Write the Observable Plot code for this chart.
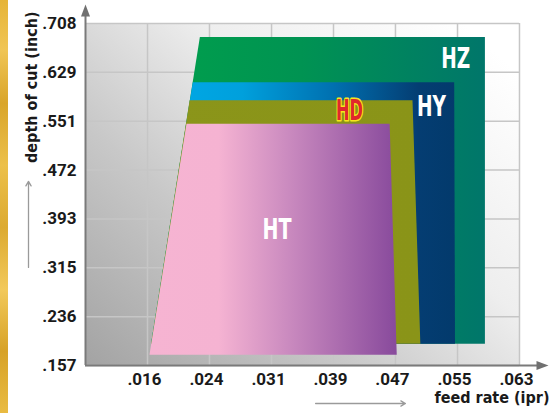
<!DOCTYPE html>
<html><head><meta charset="utf-8">
<script src="https://cdn.jsdelivr.net/npm/d3@7"></script>
<script src="https://cdn.jsdelivr.net/npm/@observablehq/plot@0.6"></script>
<style>
html,body{margin:0;padding:0;background:#fff;}
#wrap{position:relative;width:559px;height:413px;overflow:hidden;}
#gold{position:absolute;left:0;top:0;width:8px;height:413px;z-index:2;
background:linear-gradient(180deg,#e6b437 0%,#f0c555 12%,#d9a52a 25%,#ecc04a 40%,#dcaa30 55%,#f2c95a 70%,#d7a227 85%,#e9bb42 100%);}
</style></head><body><div id="wrap"><div id="gold"></div></div>
<script>
// ---- data (feed rate in ipr, depth of cut in inch) ----
const seriesNames = ["HZ", "HY", "HD", "HT"];
const feedHZ  = [0.0224, 0.0586, 0.0586, 0.0162];
const depthHZ = [0.687, 0.687, 0.1925, 0.1925];
const feedHY  = [0.0215, 0.0547, 0.0548, 0.0162];
const depthHY = [0.614, 0.614, 0.1925, 0.1925];
const feedHD  = [0.0211, 0.0494, 0.0504, 0.0162];
const depthHD = [0.585, 0.585, 0.1925, 0.1925];
const feedHT  = [0.0207, 0.0465, 0.0474, 0.0160];
const depthHT = [0.547, 0.547, 0.1747, 0.1747];
const labelFeed  = [0.0549, 0.0518, 0.0414, 0.0322];
const labelDepth = [0.6515, 0.5737, 0.5672, 0.3758];

const xTickValues = [0.01575, 0.02362, 0.03150, 0.03937, 0.04724, 0.05512, 0.06299];
const xTickLabels = [".016", ".024", ".031", ".039", ".047", ".055", ".063"];
const yTickValues = [0.15748, 0.23622, 0.31496, 0.39370, 0.47244, 0.55118, 0.62992, 0.70866];
const yTickLabels = [".157", ".236", ".315", ".393", ".472", ".551", ".629", ".708"];
const xDomain = [0.007874, 0.062992];
const yDomain = [0.15748, 0.70866];
const yTitleArrow = [0.3156, 0.4543];
const xTitleArrow = [0.0371, 0.0485];
const yTitle = "depth of cut (inch)";
const xTitle = "feed rate (ipr)";

const polys = {HZ: [feedHZ, depthHZ], HY: [feedHY, depthHY], HD: [feedHD, depthHD], HT: [feedHT, depthHT]};
const rows = s => polys[s][0].map((f, i) => ({series: s, feed: f, depth: polys[s][1][i]}));
const labels = seriesNames.map((s, i) => ({series: s, feed: labelFeed[i], depth: labelDepth[i]}));

const condensed = "'Liberation Sans Narrow', 'DejaVu Sans Condensed', 'Roboto', sans-serif";
const tickFont = "Roboto, 'Liberation Sans', sans-serif";

const plot = Plot.plot({
  width: 559, height: 413,
  marginLeft: 85, marginRight: 40, marginTop: 23, marginBottom: 48,
  style: {background: "transparent", overflow: "visible"},
  x: {domain: xDomain},
  y: {domain: yDomain},
  marks: [
    Plot.frame({fill: "url(#bgGrad)", stroke: "none"}),
    Plot.gridX(xTickValues, {stroke: "#c6c6c6", strokeOpacity: 1, strokeWidth: 1.5}),
    Plot.gridY(yTickValues, {stroke: "#c6c6c6", strokeOpacity: 1, strokeWidth: 1.5}),
    ...seriesNames.map(s => Plot.line(rows(s), {x: "feed", y: "depth", fill: `url(#g${s})`, stroke: "none", curve: "linear"})),
    Plot.text(labels.filter(d => d.series !== "HD"), {x: "feed", y: "depth", text: "series", fill: "white",
      fontFamily: condensed, fontWeight: "bold", fontSize: 28}),
    Plot.text(labels.filter(d => d.series === "HD"), {x: "feed", y: "depth", text: "series", fill: "#e0282c",
      stroke: "#f7e61c", strokeWidth: 3, paintOrder: "stroke", strokeLinejoin: "round",
      fontFamily: condensed, fontWeight: "bold", fontSize: 28}),
    Plot.ruleX([xDomain[0]], {stroke: "#7a7a7a", strokeWidth: 2, insetTop: -8}),
    Plot.ruleY([yDomain[0]], {stroke: "#7a7a7a", strokeWidth: 2, insetRight: -18}),
    Plot.vector([0], {frameAnchor: "top-left", shape: "spike", anchor: "start", length: 12, r: 4.5,
      fill: "#707070", stroke: "none", dy: -7}),
    Plot.vector([0], {frameAnchor: "bottom-right", shape: "spike", anchor: "start", length: 12, r: 4.5, rotate: 90,
      fill: "#707070", stroke: "none", dx: 17}),
    Plot.axisX(xTickValues, {tickSize: 0, tickPadding: 7, dx: -3, tickFormat: d => xTickLabels[xTickValues.indexOf(d)],
      fontFamily: tickFont, fontWeight: "bold", fontSize: 17, fill: "#1a1a1a", label: null}),
    Plot.axisY(yTickValues, {tickSize: 0, tickPadding: 9, tickFormat: d => yTickLabels[yTickValues.indexOf(d)],
      fontFamily: tickFont, fontWeight: "bold", fontSize: 17, fill: "#1a1a1a", label: null}),
    Plot.text([yTitle], {frameAnchor: "top-left", rotate: -90, textAnchor: "end", dx: -60, dy: -12,
      fontFamily: condensed, fontWeight: "bold", fontSize: 16, fill: "#1a1a1a"}),
    Plot.text([xTitle], {frameAnchor: "bottom-right", textAnchor: "end", dx: 30, dy: 37,
      fontFamily: condensed, fontWeight: "bold", fontSize: 16, fill: "#1a1a1a"}),
    Plot.arrow([0], {x1: xDomain[0], x2: xDomain[0], y1: yTitleArrow[0], y2: yTitleArrow[1], dx: -57,
      stroke: "#9a9a9a", strokeWidth: 1.3, headLength: 6}),
    Plot.arrow([0], {x1: xTitleArrow[0], x2: xTitleArrow[1], y1: yDomain[0], y2: yDomain[0], dy: 38,
      stroke: "#9a9a9a", strokeWidth: 1.3, headLength: 6})
  ]
});

const defs = `
<linearGradient id="bgGrad" x1="0" y1="1" x2="1" y2="0.15">
  <stop offset="0" stop-color="#a3a3a3"/><stop offset="0.35" stop-color="#c8c8c8"/>
  <stop offset="0.65" stop-color="#eeeeee"/><stop offset="1" stop-color="#ffffff"/>
</linearGradient>
<linearGradient id="gHZ" x1="0" y1="0" x2="1" y2="0">
  <stop offset="0" stop-color="#00a04c"/><stop offset="0.45" stop-color="#009352"/><stop offset="1" stop-color="#00766a"/>
</linearGradient>
<linearGradient id="gHY" x1="0" y1="0" x2="1" y2="0">
  <stop offset="0" stop-color="#00aae8"/><stop offset="0.3" stop-color="#00a0dc"/><stop offset="0.6" stop-color="#0070b0"/>
  <stop offset="0.88" stop-color="#043d72"/><stop offset="1" stop-color="#033a6c"/>
</linearGradient>
<linearGradient id="gHD" x1="0" y1="0" x2="1" y2="0">
  <stop offset="0" stop-color="#8b951a"/><stop offset="1" stop-color="#8a9418"/>
</linearGradient>
<linearGradient id="gHT" x1="0" y1="0" x2="1" y2="0">
  <stop offset="0" stop-color="#f6b4d2"/><stop offset="0.28" stop-color="#f5b3d2"/>
  <stop offset="0.55" stop-color="#cc8cc0"/><stop offset="1" stop-color="#884a9c"/>
</linearGradient>`;
d3.select(plot).insert("defs", ":first-child").html(defs);

// condense the narrow bold series labels to the reference widths
const textWidths = {HZ: 29, HY: 29, HT: 29, HD: 27};
d3.select(plot).selectAll("text").each(function() {
  const w = textWidths[this.textContent];
  if (w) d3.select(this).attr("textLength", w).attr("lengthAdjust", "spacingAndGlyphs");
});
document.getElementById("wrap").appendChild(plot);
</script>
</body></html>
